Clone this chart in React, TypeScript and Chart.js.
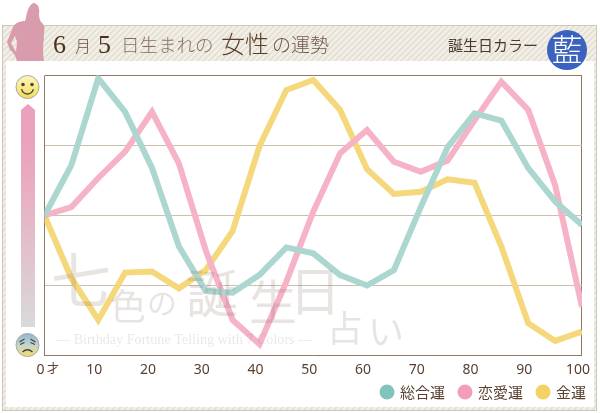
import { useEffect, useRef } from "react"
import { Chart, registerables } from "chart.js"

Chart.register(...registerables)

const ages = [0, 5, 10, 15, 20, 25, 30, 35, 40, 45, 50, 55, 60, 65, 70, 75, 80, 85, 90, 95, 100]
const sogo = [50, 68, 99, 87, 67, 39, 23, 22.4, 28.8, 38.6, 36.5, 28.7, 25, 30.5, 53, 74.4, 86.5, 83.9, 66.9, 55, 46.6]
const renai = [50, 53, 63.4, 72.8, 87, 68.6, 37.5, 12.7, 4, 26.4, 51.4, 72.2, 80.5, 69.2, 65.6, 69.6, 84, 97.8, 87.7, 60.9, 17.4]
const kinun = [50, 27.6, 12.7, 29.6, 30, 24, 30.5, 44.5, 74.8, 94.8, 98.4, 87.7, 66.5, 57.7, 58.5, 62.9, 61.7, 38.9, 11.5, 5.2, 8.5]
const seriesNames = ["総合運", "恋愛運", "金運"]

const SANS = '"Noto Sans CJK JP", "Noto Sans", sans-serif'
const SERIF = '"Liberation Serif", "Noto Sans CJK JP", serif'
const TEXT = "#5a4030"

function text(ctx: CanvasRenderingContext2D, s: string, x: number, y: number, font: string, color: string) {
  ctx.font = font
  ctx.fillStyle = color
  ctx.fillText(s, x, y)
}

function stripes(ctx: CanvasRenderingContext2D) {
  const tile = document.createElement("canvas")
  tile.width = 6
  tile.height = 6
  const t = tile.getContext("2d")!
  t.fillStyle = "#f3f0e9"
  t.fillRect(0, 0, 6, 6)
  t.strokeStyle = "#e6e1d6"
  t.lineWidth = 2.2
  for (const o of [0, 6, 12]) {
    t.beginPath()
    t.moveTo(o + 1, -1)
    t.lineTo(o - 7, 7)
    t.stroke()
  }
  return ctx.createPattern(tile, "repeat")!
}

function face(ctx: CanvasRenderingContext2D, x: number, y: number, happy: boolean) {
  const g = ctx.createLinearGradient(0, y - 12, 0, y + 12)
  if (happy) {
    g.addColorStop(0, "#fdf8c0")
    g.addColorStop(1, "#f4dc55")
  } else {
    g.addColorStop(0, "#8fb4d8")
    g.addColorStop(0.55, "#c8d8c8")
    g.addColorStop(1, "#f6de60")
  }
  ctx.beginPath()
  ctx.arc(x, y, 11.5, 0, Math.PI * 2)
  ctx.fillStyle = g
  ctx.fill()
  ctx.strokeStyle = "#a8a8a8"
  ctx.lineWidth = 1
  ctx.stroke()
  ctx.strokeStyle = "#444"
  ctx.fillStyle = "#444"
  ctx.lineWidth = 1.3
  ctx.beginPath()
  if (happy) {
    ctx.arc(x - 4.5, y - 2.5, 1.8, 0, Math.PI * 2)
    ctx.arc(x + 4.5, y - 2.5, 1.8, 0, Math.PI * 2)
    ctx.fill()
    ctx.beginPath()
    ctx.arc(x, y + 1, 6, 0.2, Math.PI - 0.2)
    ctx.stroke()
  } else {
    // brows and eyes
    ctx.moveTo(x - 8, y - 3)
    ctx.lineTo(x - 3, y - 6)
    ctx.moveTo(x + 8, y - 3)
    ctx.lineTo(x + 3, y - 6)
    ctx.moveTo(x - 7.5, y - 0.5)
    ctx.lineTo(x - 3, y - 2.5)
    ctx.moveTo(x + 7.5, y - 0.5)
    ctx.lineTo(x + 3, y - 2.5)
    ctx.moveTo(x - 5, y + 7)
    ctx.quadraticCurveTo(x, y + 2.5, x + 5, y + 7)
    ctx.stroke()
  }
}

const decor = {
  id: "decor",
  beforeDraw(chart: Chart) {
    const ctx = chart.ctx
    ctx.save()
    ctx.textBaseline = "alphabetic"
    ctx.textAlign = "left"

    // frame
    ctx.fillStyle = stripes(ctx)
    ctx.fillRect(3, 25, 594, 385)
    ctx.strokeStyle = "#cfc8b8"
    ctx.lineWidth = 1
    ctx.strokeRect(2.5, 25.5, 594, 385)
    ctx.fillStyle = "#fff"
    ctx.fillRect(6, 61, 588, 346)

    // woman silhouette
    const body = new Path2D(
      "M33,3 C38,3 40,8 39,14 C39,18 40,20 41,22 C44,24 45,28 44,33 C44,42 42,48 44,61 L17,61 C16,56 13,52 10,50 L7,42 L13,27 C15,23 20,21 25,21 C27,17 26,8 33,3 Z M15,36 L11,43 L16,52 L17,42 Z"
    )
    ctx.fillStyle = "#d99cad"
    ctx.fill(body, "evenodd")

    // title
    text(ctx, "6", 53, 53, "26px " + SERIF, "#4a2f1c")
    text(ctx, "月", 75, 52, "300 16px " + SANS, "#6b503c")
    text(ctx, "5", 98, 53, "26px " + SERIF, "#4a2f1c")
    text(ctx, "日生まれの", 121, 52, "300 18.5px " + SANS, "#85705f")
    text(ctx, "女性", 221, 53, "300 24px " + SANS, "#5a3c28")
    text(ctx, "の運勢", 272, 52, "300 19px " + SANS, "#6f5a4a")
    text(ctx, "誕生日カラー", 448, 51, "15px " + SANS, "#4a3a2e")

    ctx.beginPath()
    ctx.arc(567, 50, 20, 0, Math.PI * 2)
    ctx.fillStyle = "#3a62be"
    ctx.fill()
    ctx.textAlign = "center"
    text(ctx, "藍", 567, 61, "300 31px " + SANS, "#fff")
    ctx.textAlign = "left"

    // mood scale
    const g = ctx.createLinearGradient(0, 104, 0, 327)
    g.addColorStop(0, "#eb9fbb")
    g.addColorStop(0.25, "#eba5be")
    g.addColorStop(1, "#d9d9d9")
    ctx.fillStyle = g
    ctx.beginPath()
    ctx.moveTo(28, 104)
    ctx.lineTo(35, 110)
    ctx.lineTo(35, 327)
    ctx.lineTo(21, 327)
    ctx.lineTo(21, 110)
    ctx.closePath()
    ctx.fill()
    face(ctx, 27.5, 87, true)
    face(ctx, 27.5, 345, false)

    // legend
    const colors = ["#82c4bc", "#f29dba", "#f3d163"]
    const cx = [387, 465, 543]
    seriesNames.forEach((name, i) => {
      ctx.beginPath()
      ctx.arc(cx[i], 392, 7.5, 0, Math.PI * 2)
      ctx.fillStyle = colors[i]
      ctx.fill()
      text(ctx, name, cx[i] + 13, 398, "15px " + SANS, TEXT)
    })

    text(ctx, "才", 47, 373, "12px " + SANS, TEXT)
    ctx.restore()
  },
  afterDatasetsDraw(chart: Chart) {
    const ctx = chart.ctx
    ctx.save()
    ctx.textBaseline = "alphabetic"
    ctx.textAlign = "left"
    const wm = "rgba(120,95,85,0.17)"
    const big = (s: string, x: number, y: number, size: number) => text(ctx, s, x, y, `${size}px ` + SANS, wm)
    big("七", 51, 303, 60)
    big("色", 110, 320, 36)
    big("の", 147, 314, 30)
    big("誕", 186, 313, 52)
    big("生", 249, 320, 48)
    big("日", 289, 311, 52)
    big("占", 327, 342, 36)
    big("い", 368, 345, 36)
    text(ctx, "— Birthday Fortune Telling with 7 Colors —", 56, 344, "14.15px " + SERIF, "rgba(120,95,85,0.15)")
    ctx.restore()
  },
}

export default function App() {
  const canvasRef = useRef<HTMLCanvasElement>(null)

  useEffect(() => {
    if (!canvasRef.current) return
    const line = (label: string, values: number[], color: string) => ({
      label,
      data: values.map((v, i) => ({ x: ages[i], y: v })),
      borderColor: color,
      borderWidth: 6,
      pointRadius: 0,
      tension: 0,
    })
    const chart = new Chart(canvasRef.current, {
      type: "line",
      data: {
        datasets: [
          line(seriesNames[0], sogo, "#acd7d1"),
          line(seriesNames[1], renai, "#f6b3c8"),
          line(seriesNames[2], kinun, "#f6d87c"),
        ],
      },
      options: {
        responsive: false,
        animation: false,
        layout: { padding: { left: 44.5, top: 75.5, right: 16.5, bottom: 0 } },
        plugins: { legend: { display: false }, tooltip: { enabled: false } },
        scales: {
          x: {
            type: "linear",
            min: 0,
            max: 100,
            border: { display: false },
            afterFit: (axis: any) => {
              axis.height = 57.5
            },
            grid: {
              drawTicks: false,
              color: (c: any) => (c.tick.value === 0 || c.tick.value === 100 ? "#8e7860" : "rgba(0,0,0,0)"),
            },
            ticks: {
              stepSize: 10,
              padding: 6,
              labelOffset: -4,
              maxRotation: 0,
              color: TEXT,
              font: { family: '"Noto Sans", sans-serif', size: 14 },
            },
          },
          y: {
            min: 0,
            max: 100,
            border: { display: false },
            afterFit: (axis: any) => {
              axis.width = 0
            },
            grid: {
              drawTicks: false,
              color: (c: any) => (c.tick.value === 0 || c.tick.value === 100 ? "#8e7860" : "#cdbfae"),
            },
            ticks: { display: false, stepSize: 25 },
          },
        },
      },
      plugins: [decor],
    })
    return () => chart.destroy()
  }, [])

  return (
    <div style={{ position: "absolute", left: 0, top: 0, width: 600, height: 413 }}>
      <canvas ref={canvasRef} width={600} height={413} style={{ display: "block" }} />
    </div>
  )
}
